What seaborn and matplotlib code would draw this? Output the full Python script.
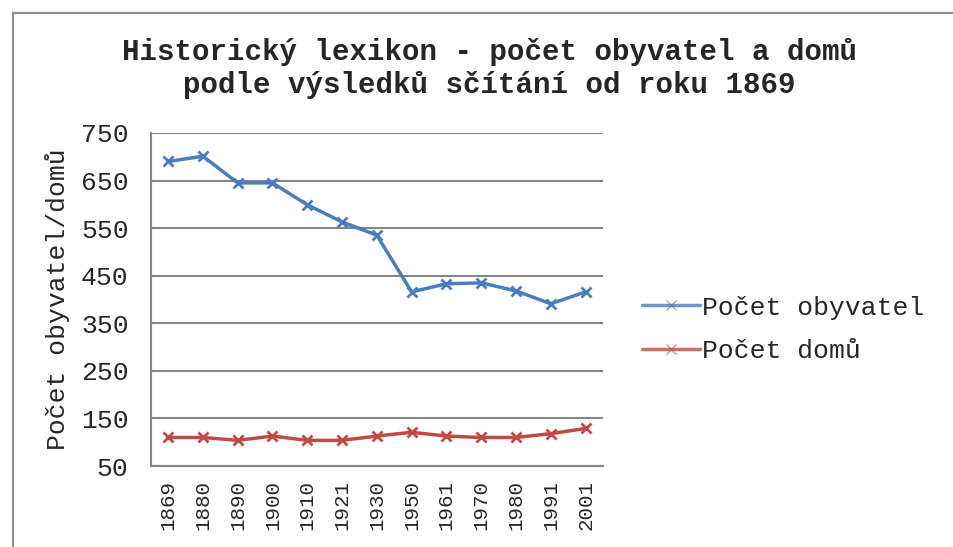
import numpy as np
import pandas as pd

import seaborn as sns
import matplotlib.pyplot as plt
from matplotlib.patches import Rectangle

# data
years = ['1869', '1880', '1890', '1900', '1910', '1921', '1930',
         '1950', '1961', '1970', '1980', '1991', '2001']
obyvatel = [690, 701, 645, 645, 599, 563, 535, 416, 433, 435, 418, 391, 416]
domu = [110, 110, 104, 113, 104, 104, 113, 121, 113, 110, 110, 118, 129]
series_names = ['Počet obyvatel', 'Počet domů']
colors = ['#4a7ebb', '#be4b48']
y_ticks = [50, 150, 250, 350, 450, 550, 650, 750]

df = pd.DataFrame({'rok': years * 2,
                   'hodnota': obyvatel + domu,
                   'rada': [series_names[0]] * len(years) + [series_names[1]] * len(years)})

sns.set_style('white')
plt.rcParams['font.family'] = ['Liberation Mono', 'DejaVu Sans Mono']

fig = plt.figure(figsize=(9.54, 5.47), dpi=100)
ax = fig.add_axes([0.158, 0.148, 0.474, 0.609])

# outer chart border (only left/top visible in the crop)
fig.patches.append(Rectangle((13 / 954, -0.1), 1.2, 1 - 13 / 547 + 0.1,
                             transform=fig.transFigure, fill=False,
                             edgecolor='#8c8c8c', linewidth=1.5))

sns.lineplot(data=df, x='rok', y='hodnota', hue='rada', palette=colors,
             marker='x', linewidth=2.5, markersize=7, ax=ax, sort=False)
for l, c in zip(ax.lines, colors):
    l.set_markeredgecolor(c)
    l.set_markeredgewidth(2)

ax.set_xlim(-0.5, len(years) - 0.5)
ax.set_ylim(50, 750)
ax.set_yticks(y_ticks)
ax.tick_params(axis='y', labelsize=19, length=0, pad=16)
ax.tick_params(axis='x', labelsize=15, length=0, pad=10, labelrotation=90)
ax.grid(axis='y', color='#868686', linewidth=1.5)
ax.set_axisbelow(True)
for s in ['top', 'right']:
    ax.spines[s].set_visible(False)
for s in ['left', 'bottom']:
    ax.spines[s].set_color('#868686')
    ax.spines[s].set_linewidth(1.5)

ax.set_xlabel('')
ax.set_ylabel('Počet obyvatel/domů', fontsize=19, labelpad=8)

fig.text(0.513, 0.875, 'Historický lexikon - počet obyvatel a domů\npodle výsledků sčítání od roku 1869',
         ha='center', va='center', fontsize=21, fontweight='bold', linespacing=1.2)

handles, labels = ax.get_legend_handles_labels()
for h, c in zip(handles, colors):
    h.set_markeredgecolor(c)
    h.set_alpha(0.8)
ax.legend(handles, labels, loc='center left', bbox_to_anchor=(1.033, 0.41),
          frameon=False, fontsize=19, handlelength=2.2, handletextpad=0.1,
          labelspacing=0.75)

plt.savefig('out.png', dpi=100)
